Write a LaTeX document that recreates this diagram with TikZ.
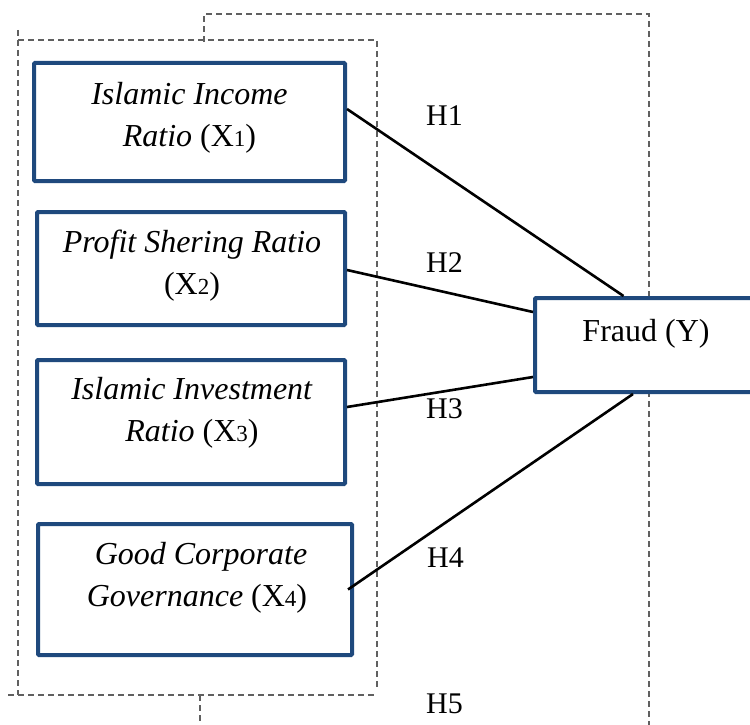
\documentclass[tikz,border=0pt]{standalone}
\usepackage{fontspec}
\setmainfont{Liberation Serif}
\usetikzlibrary{calc}
\definecolor{boxblue}{HTML}{1F497D}
\definecolor{dashgray}{HTML}{606060}
\newcommand{\sx}[1]{{\fontsize{23}{23}\selectfont #1}}
\tikzset{
  varbox/.style={draw=boxblue, line width=4pt, rounded corners=1pt, fill=white},
  vartext/.style={align=center, font=\fontsize{32}{42}\selectfont, inner sep=0pt},
  hyp/.style={font=\fontsize{30}{30}\selectfont, anchor=base west, inner sep=0pt},
  link/.style={line width=2.6pt, black},
  frame/.style={draw=dashgray, line width=1.3pt, dash pattern=on 6pt off 4pt}
}
\begin{document}
\begin{tikzpicture}[x=1pt,y=-1pt]
\useasboundingbox (0,0) rectangle (750,725);
\begin{scope}
\clip (0,0) rectangle (750,725);
% dashed frames
\draw[frame] (18,30) -- (18,695);
\draw[frame] (18,40) -- (377,40) -- (377,688);
\draw[frame] (8,695) -- (377,695);
\draw[frame] (204,42) -- (204,14) -- (649,14) -- (649,725);
\draw[frame] (200,695) -- (200,725);
% boxes
\node[varbox, minimum width=311pt, minimum height=118pt] (x1) at (189.5,122) {};
\node[varbox, minimum width=308pt, minimum height=113pt] (x2) at (191,268.5) {};
\node[varbox, minimum width=308pt, minimum height=124pt] (x3) at (191,422) {};
\node[varbox, minimum width=314pt, minimum height=131pt] (x4) at (195,589.5) {};
\node[varbox, minimum width=235pt, minimum height=94pt] (fr) at (652.5,345) {};
% texts
\node[vartext] (t1) at (189.5,117.5) {\textit{Islamic Income}\\\textit{Ratio} (X\sx{1})};
\node[vartext] (t2) at (192,266) {\textit{Profit Shering Ratio}\\(X\sx{2})};
\node[vartext] (t3) at (192,413) {\textit{Islamic Investment}\\\textit{Ratio} (X\sx{3})};
\node[vartext] (t4) at (197,577.5) {\textit{\ Good Corporate}\\\textit{Governance} (X\sx{4})};
\node[font=\fontsize{32}{32}\selectfont, anchor=base, inner sep=0pt] (ft) at (646,341) {Fraud (Y)};
% connectors
\draw[link] ($(x1.east)+(0,-13)$) -- ($(fr.north)+(-29,0)$);
\draw[link] ($(x2.east)+(0,1.5)$) -- ($(fr.west)+(0,-33)$);
\draw[link] ($(x3.east)+(0,-15)$) -- ($(fr.west)+(0,32)$);
\draw[link] ($(x4.east)+(-6,0)$) -- ($(fr.south)+(-19.5,0)$);
% hypothesis labels
\node[hyp] (h1) at (426,125) {H1};
\node[hyp] (h2) at (426,272) {H2};
\node[hyp] (h3) at (426,418) {H3};
\node[hyp] (h4) at (427,567) {H4};
\node[hyp] (h5) at (426,713) {H5};
\end{scope}
\end{tikzpicture}
\end{document}
